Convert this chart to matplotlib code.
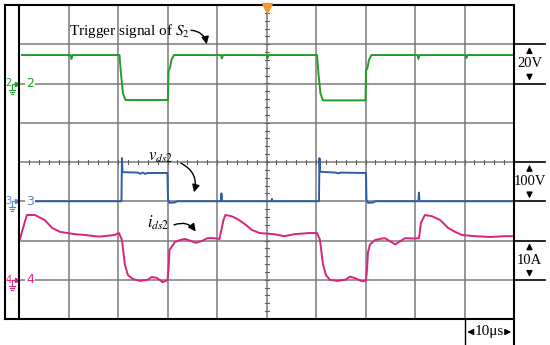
import numpy as np
import matplotlib.pyplot as plt

plt.rcParams['mathtext.fontset'] = 'stix'
plt.rcParams['font.family'] = ['Liberation Serif', 'DejaVu Serif']

# time axis: 10 div x 10 us
# ch2 gate signal (V), 20 V/div, ground at div 6
t_g = [0.6, 10.4, 10.6, 10.8, 20.3, 20.6, 21.0, 21.5, 30.1, 30.2, 30.5, 30.8, 31.3,
       40.8, 41.0, 41.2, 50.0, 50.2, 50.4, 60.2, 60.5, 60.9, 61.4, 70.0, 70.1, 70.4,
       70.7, 71.2, 80.5, 80.7, 80.9, 90.2, 90.4, 90.6, 99.8]
v_g = [14.5, 14.5, 12.5, 14.5, 14.5, 5.0, -5.0, -8.4, -8.4, 6.5, 8.0, 12.0, 14.5,
       14.5, 12.8, 14.5, 14.5, 12.8, 14.5, 14.5, 5.0, -5.0, -8.6, -8.6, 6.5, 8.0,
       12.0, 14.5, 14.5, 12.5, 14.5, 14.5, 13.0, 14.5, 14.5]

# ch3 vds2 (V), 100 V/div, ground at div 3
t_b = [2.2, 20.7, 20.8, 20.9, 21.2, 24.0, 24.5, 25.0, 25.5, 26.0, 30.0, 30.1, 30.4,
       31.5, 32.0, 40.8, 40.9, 41.0, 51.0, 51.1, 51.2, 60.6, 60.7, 60.8, 61.1, 64.0,
       64.5, 65.0, 70.1, 70.2, 70.5, 71.6, 72.0, 80.7, 80.8, 80.9, 99.8]
v_b = [0, 0, 110, 75, 74, 73, 70, 73, 70, 72, 72, 5, -4, -3, 0, 0, 20, 0, 0, 6, 0,
       0, 110, 76, 75, 73, 71, 73, 72, 4, -4, -3, 0, 0, 22, 0, 0]

# ch4 ids2 (A), 10 A/div, ground at div 1
t_p = [0.2, 1.0, 1.6, 3.2, 5.2, 6.7, 8.3, 11.3, 13.3, 15.3, 16.3, 19.3, 20.2, 20.8,
       21.4, 22.0, 23.0, 24.4, 26.0, 26.8, 27.8, 29.0, 30.0, 30.2, 30.4, 31.5, 32.5,
       33.5, 34.5, 35.7, 37.0, 38.1, 39.3, 40.5, 41.3, 41.7, 42.9, 44.1, 45.6, 47.0,
       48.6, 51.6, 53.6, 55.6, 58.6, 60.2, 60.8, 61.4, 62.0, 62.8, 64.4, 65.9, 66.9,
       68.1, 69.3, 70.1, 70.3, 70.5, 70.9, 71.9, 72.9, 73.9, 76.0, 78.0, 80.0, 80.8,
       81.2, 82.0, 83.4, 85.1, 86.7, 88.1, 89.5, 92.1, 95.2, 98.2, 99.8]
i_p = [10.4, 14.0, 16.5, 16.5, 15.2, 13.2, 12.2, 11.6, 11.4, 11.1, 11.0, 11.4, 11.9,
       10.1, 3.8, 1.2, 0.2, -0.3, 0.0, 0.7, 0.5, -0.6, -0.1, 2.5, 7.6, 9.6, 10.1,
       10.4, 10.0, 9.4, 9.9, 10.6, 10.6, 10.4, 15.2, 16.5, 16.2, 15.5, 14.2, 12.7,
       11.9, 11.6, 11.1, 11.6, 11.9, 11.9, 10.2, 4.0, 1.2, 0.0, -0.3, 0.0, 0.8,
       0.3, -0.4, -0.2, 2.5, 7.0, 9.0, 10.1, 10.4, 10.6, 9.0, 10.6, 10.5, 10.6,
       14.5, 16.5, 16.2, 15.2, 13.2, 12.2, 11.4, 11.1, 10.9, 11.1, 11.1]

green = '#1f9e28'
blue = '#2d5caa'
pink = '#d9237c'

fig = plt.figure(figsize=(5.5, 3.45), dpi=100)
ax = fig.add_axes([19/550, 26/345, 495/550, 314/345])
ax.set_xlim(0, 100)
ax.set_ylim(0, 8)
ax.set_axis_off()

px = 100/495   # one pixel in x units
py = 8/314     # one pixel in y units

# grid
for x in range(10, 100, 10):
    ax.plot([x, x], [0, 8], color='#7a7a7a', lw=1.1, zorder=1)
for y in range(1, 8):
    ax.plot([0, 100], [y, y], color='#7a7a7a', lw=1.1, zorder=1)
# centre minor ticks
for y in np.arange(0.2, 8, 0.2):
    ax.plot([50-2*px, 50+2*px], [y, y], color='#606060', lw=0.8, zorder=1)
for x in np.arange(2, 100, 2):
    ax.plot([x, x], [4-2*py, 4+2*py], color='#606060', lw=0.8, zorder=1)

# frame
k = dict(color='black', lw=1.5, clip_on=False, zorder=5)
ax.plot([-14*px, 100], [8, 8], **k)
ax.plot([-14*px, 100], [0, 0], **k)
ax.plot([-14*px, -14*px], [0, 8], **k)
ax.plot([0, 0], [0, 8], **k)
ax.plot([100, 100], [-26*py, 8], **k)
ax.plot([90, 90], [-26*py, 0], color='black', lw=1, clip_on=False)
for y in [7, 6, 4, 3, 2, 1]:
    ax.plot([100, 100+31*px], [y, y], color='black', lw=1.2, clip_on=False)

# trigger marker
ax.plot([50], [8-3*py], marker='v', color='#f29a2e', ms=7, clip_on=False, zorder=6)

# traces
ax.plot(t_g, 6 + np.array(v_g)/20, color=green, lw=1.4, zorder=3)
ax.plot(t_b, 3 + np.array(v_b)/100, color=blue, lw=1.4, zorder=3)
ax.plot(t_p, 1 + np.array(i_p)/10, color=pink, lw=1.4, zorder=3)

# channel markers
for ch, y, c in [('2', 6, green), ('3', 3, '#4f86d0'), ('4', 1, pink)]:
    ax.text(1.4, y, ch, color=c, fontsize=9, family='DejaVu Sans', va='center', ha='left',
            bbox=dict(fc='white', ec='none', pad=0.5), zorder=4)
    ax.text(-10.5*px, y, ch, color=c, fontsize=7, family='DejaVu Sans', va='center',
            ha='center', clip_on=False)
    ax.plot([-2.5*px], [y], marker='>', color=c, ms=3, clip_on=False)
    ax.plot([-7*px, -3*px], [y, y], color=c, lw=0.8, clip_on=False)
    ax.plot([-7*px, -7*px], [y, y-6*py], color=c, lw=0.8, clip_on=False)
    for j, w in enumerate([3, 2, 1]):
        ax.plot([-7*px-w*px, -7*px+w*px], [y-(6+2*j)*py]*2, color=c, lw=0.8, clip_on=False)

# scale labels
ak = dict(arrowstyle='-|>', color='black', lw=0.9, mutation_scale=9)
for y0, lab in [(6, '20V'), (3, '100V'), (1, '10A')]:
    xm = 100 + 15.5*px
    ax.text(xm, y0+0.5, lab, fontsize=10.5, ha='center', va='center', clip_on=False)
    ax.annotate('', xy=(xm, y0+1), xytext=(xm, y0+0.7), arrowprops=ak,
                annotation_clip=False)
    ax.annotate('', xy=(xm, y0), xytext=(xm, y0+0.3), arrowprops=ak,
                annotation_clip=False)
ax.text(95, -13*py, '10\u03bcs', fontsize=11, ha='center', va='center', clip_on=False)
ax.annotate('', xy=(90, -13*py), xytext=(92.0, -13*py), arrowprops=ak,
            annotation_clip=False)
ax.annotate('', xy=(100, -13*py), xytext=(98.0, -13*py), arrowprops=ak,
            annotation_clip=False)

# annotations
ax.text(10.1, 7.34, 'Trigger signal of $S_2$', fontsize=11, ha='left', va='center')
ax.annotate('', xy=(38.0, 6.93), xytext=(34.2, 7.36),
            arrowprops=dict(arrowstyle='-|>', color='black', lw=1,
                            connectionstyle='arc3,rad=-0.45', mutation_scale=11))
ax.text(26.1, 4.13, '$v_{ds2}$', fontsize=12, ha='left', va='center')
ax.annotate('', xy=(35.2, 3.16), xytext=(32.2, 4.0),
            arrowprops=dict(arrowstyle='-|>', color='black', lw=1,
                            connectionstyle='arc3,rad=-0.45', mutation_scale=11))
ax.text(25.9, 2.45, '$i_{ds2}$', fontsize=12, ha='left', va='center')
ax.annotate('', xy=(36.0, 2.17), xytext=(30.8, 2.37),
            arrowprops=dict(arrowstyle='-|>', color='black', lw=1,
                            connectionstyle='arc3,rad=-0.45', mutation_scale=11))

fig.savefig('out.png', dpi=100, facecolor='white')
